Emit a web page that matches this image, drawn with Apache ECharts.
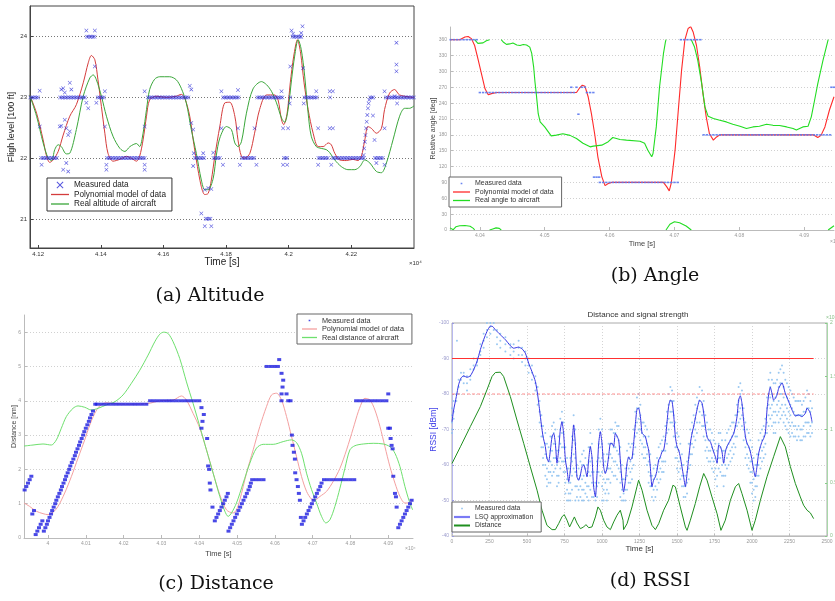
<!DOCTYPE html>
<html><head><meta charset="utf-8">
<script src="https://cdn.jsdelivr.net/npm/echarts@6/dist/echarts.min.js"></script>
<style>html,body{margin:0;padding:0;background:#fff}#c{width:835px;height:601px}</style>
</head><body><div id="c"></div>
<script>
// ---------------- (a) Altitude ----------------
const altTicksX = [4.12, 4.14, 4.16, 4.18, 4.2, 4.22];
const altTickLabelsX = ['4.12', '4.14', '4.16', '4.18', '4.2', '4.22'];
const altTicksY = [21, 22, 23, 24];
const altModel = [[4.1173,23.04],[4.1195,22.74],[4.1216,22.30],[4.1227,22.03],[4.1237,21.93],[4.1248,21.97],[4.1264,22.11],[4.1280,22.38],[4.1301,22.69],[4.1322,22.88],[4.1344,23.24],[4.1360,23.57],[4.1370,23.69],[4.1381,23.62],[4.1391,23.29],[4.1402,22.85],[4.1413,22.41],[4.1423,22.08],[4.1439,21.95],[4.1461,21.98],[4.1482,22.03],[4.1503,21.98],[4.1514,21.95],[4.1524,22.03],[4.1535,22.30],[4.1546,22.69],[4.1556,22.96],[4.1578,23.02],[4.1610,23.00],[4.1641,23.02],[4.1657,23.05],[4.1668,22.99],[4.1684,22.69],[4.1695,22.30],[4.1705,21.97],[4.1721,21.53],[4.1732,21.40],[4.1743,21.42],[4.1753,21.64],[4.1764,22.03],[4.1780,22.52],[4.1796,22.91],[4.1812,22.92],[4.1828,22.69],[4.1838,22.30],[4.1849,22.03],[4.1860,22.00],[4.1876,22.08],[4.1891,22.41],[4.1907,22.80],[4.1929,23.04],[4.1955,23.04],[4.1966,22.96],[4.1977,22.63],[4.1984,22.55],[4.1995,22.74],[4.2005,23.24],[4.2016,23.68],[4.2028,23.95],[4.2038,23.73],[4.2049,23.24],[4.2062,22.80],[4.2078,22.41],[4.2094,22.19],[4.2110,22.19],[4.2126,22.25],[4.2136,22.22],[4.2147,22.08],[4.2163,21.97],[4.2184,21.96],[4.2205,21.98],[4.2221,21.96],[4.2232,22.03],[4.2243,22.30],[4.2253,22.52],[4.2264,22.49],[4.2280,22.41],[4.2296,22.49],[4.2306,22.80],[4.2322,23.07],[4.2338,23.13],[4.2354,23.04],[4.2400,23.00]];
const altReal = [[4.1173,23.04],[4.1195,22.69],[4.1216,22.25],[4.1232,22.00],[4.1243,21.96],[4.1253,22.14],[4.1264,22.22],[4.1274,22.19],[4.1290,22.07],[4.1301,22.08],[4.1322,22.47],[4.1344,23.02],[4.1365,23.32],[4.1376,23.37],[4.1386,23.29],[4.1402,23.02],[4.1418,22.69],[4.1439,22.36],[4.1461,22.16],[4.1477,22.11],[4.1493,22.19],[4.1514,22.24],[4.1524,22.19],[4.1535,22.41],[4.1546,22.80],[4.1556,23.13],[4.1572,23.30],[4.1588,23.34],[4.1620,23.34],[4.1641,23.29],[4.1657,23.15],[4.1673,22.91],[4.1689,22.47],[4.1705,22.08],[4.1721,21.64],[4.1732,21.48],[4.1743,21.48],[4.1759,21.67],[4.1769,22.05],[4.1780,22.33],[4.1801,22.52],[4.1817,22.47],[4.1828,22.25],[4.1838,22.19],[4.1849,22.27],[4.1865,22.74],[4.1886,23.14],[4.1913,23.26],[4.1929,23.21],[4.1945,23.10],[4.1961,22.91],[4.1977,22.66],[4.1987,22.59],[4.1998,22.80],[4.2009,23.29],[4.2019,23.68],[4.2030,23.95],[4.2040,23.79],[4.2051,23.35],[4.2062,22.74],[4.2072,22.36],[4.2088,22.19],[4.2104,22.16],[4.2120,22.14],[4.2131,22.09],[4.2147,21.97],[4.2168,21.86],[4.2189,21.81],[4.2211,21.81],[4.2227,21.86],[4.2243,21.97],[4.2259,21.92],[4.2280,21.78],[4.2296,21.76],[4.2312,21.92],[4.2333,22.30],[4.2354,22.69],[4.2370,22.82],[4.2386,22.82],[4.2400,22.86]];
const altRun23T = [4.1175,4.118,4.1185,4.119,4.1195,4.120,4.127,4.1275,4.128,4.1285,4.129,4.1295,4.130,4.1305,4.131,4.1315,4.132,4.1325,4.133,4.1335,4.134,4.1345,4.135,4.139,4.1395,4.140,4.1405,4.141,4.155,4.1555,4.156,4.1565,4.157,4.1575,4.158,4.1585,4.159,4.1595,4.160,4.1605,4.161,4.1615,4.162,4.1625,4.163,4.1635,4.164,4.1645,4.165,4.1655,4.166,4.1665,4.167,4.1675,4.168,4.179,4.1795,4.180,4.1805,4.181,4.1815,4.182,4.1825,4.183,4.1835,4.184,4.190,4.1905,4.191,4.1915,4.192,4.1925,4.193,4.1935,4.194,4.1945,4.195,4.1955,4.196,4.1965,4.197,4.1975,4.198,4.2005,4.205,4.2055,4.206,4.2065,4.207,4.2075,4.208,4.2085,4.209,4.2132,4.226,4.2265,4.227,4.231,4.2315,4.232,4.2325,4.233,4.2335,4.234,4.2345,4.235,4.2355,4.236,4.2365,4.237,4.2375,4.238,4.2385,4.239,4.2395,4.240];
const altRun22T = [4.121,4.1215,4.122,4.1225,4.123,4.1235,4.124,4.1245,4.125,4.1255,4.126,4.142,4.1425,4.143,4.1435,4.144,4.1445,4.145,4.1455,4.146,4.1465,4.147,4.1475,4.148,4.1485,4.149,4.1495,4.150,4.1505,4.151,4.1515,4.152,4.1525,4.153,4.1535,4.154,4.170,4.1705,4.171,4.1715,4.172,4.1725,4.173,4.176,4.1765,4.177,4.1775,4.178,4.185,4.1855,4.186,4.1865,4.187,4.1875,4.188,4.1885,4.189,4.1985,4.199,4.1995,4.2095,4.210,4.2105,4.211,4.2115,4.212,4.2125,4.214,4.2145,4.215,4.2155,4.216,4.2165,4.217,4.2175,4.218,4.2185,4.219,4.2195,4.220,4.2205,4.221,4.2215,4.222,4.2225,4.223,4.2235,4.224,4.2275,4.228,4.2285,4.229,4.2295,4.230];
const altRun24T = [4.1355,4.136,4.1365,4.137,4.1375,4.138,4.2012,4.2017,4.2022,4.2027,4.2032,4.2037,4.2040];
const altRun21T = [4.1735,4.174,4.1745,4.175];
const altScatter = [[4.1205,23.11],[4.1205,22.52],[4.1211,21.89],[4.1269,22.52],[4.1274,23.13],[4.1280,23.15],[4.1285,23.08],[4.1290,22.49],[4.1296,22.38],[4.1301,23.24],[4.1306,23.13],[4.1280,21.81],[4.1290,21.92],[4.1296,21.78],[4.1274,22.53],[4.1285,22.63],[4.1301,22.44],[4.1354,24.10],[4.1381,24.10],[4.1354,22.91],[4.1360,22.82],[4.1381,23.51],[4.1386,22.91],[4.1413,23.10],[4.1413,22.52],[4.1418,21.89],[4.1418,21.81],[4.1540,23.10],[4.1540,22.52],[4.1540,21.89],[4.1540,21.81],[4.1684,23.19],[4.1689,23.13],[4.1689,22.58],[4.1695,22.47],[4.1697,22.08],[4.1695,21.87],[4.1727,22.08],[4.1732,21.48],[4.1743,21.51],[4.1753,21.49],[4.1721,21.09],[4.1732,20.88],[4.1753,20.88],[4.1759,22.09],[4.1785,23.10],[4.1785,22.49],[4.1790,21.89],[4.1838,23.12],[4.1838,22.49],[4.1844,21.89],[4.1891,22.49],[4.1897,21.89],[4.1977,23.10],[4.1982,22.49],[4.1982,21.89],[4.1995,21.89],[4.1998,22.49],[4.2003,22.90],[4.2005,23.51],[4.2009,24.10],[4.2014,24.05],[4.2044,24.17],[4.2040,24.06],[4.2046,23.48],[4.2048,22.90],[4.2088,23.10],[4.2094,22.49],[4.2094,21.89],[4.2131,23.10],[4.2131,22.49],[4.2136,21.89],[4.2141,23.10],[4.2141,22.49],[4.2239,22.05],[4.2241,22.16],[4.2243,22.27],[4.2245,22.38],[4.2247,22.49],[4.2249,22.60],[4.2251,22.71],[4.2253,22.82],[4.2255,22.90],[4.2257,22.96],[4.2269,22.70],[4.2274,22.30],[4.2280,21.92],[4.2306,23.10],[4.2306,22.49],[4.2306,21.89],[4.2338,23.02],[4.2344,23.90],[4.2344,23.54],[4.2344,23.43],[4.2346,22.90]];

// ---------------- (b) Angle ----------------
const angTicksX = [4.04, 4.05, 4.06, 4.07, 4.08, 4.09];
const angTickLabelsX = ['4.04', '4.05', '4.06', '4.07', '4.08', '4.09'];
const angTicksY = [0, 30, 60, 90, 120, 150, 180, 210, 240, 270, 300, 330, 360];
const angModel = [[4.0354,360],[4.0369,360],[4.0377,365],[4.0382,366],[4.0387,362],[4.0392,349],[4.0397,324],[4.0403,293],[4.0408,267],[4.0413,256],[4.0418,258],[4.0426,260],[4.0549,260],[4.0554,269],[4.0558,274],[4.0562,272],[4.0567,252],[4.0572,220],[4.0577,182],[4.0582,138],[4.0588,101],[4.0593,84],[4.0598,88],[4.0603,90],[4.0683,90],[4.0688,82],[4.0692,74],[4.0695,88],[4.0701,151],[4.0706,227],[4.0711,302],[4.0716,359],[4.0721,381],[4.0725,385],[4.0729,374],[4.0734,349],[4.0739,308],[4.0744,258],[4.0749,214],[4.0754,182],[4.0760,170],[4.0765,176],[4.0770,180],[4.0914,180],[4.0921,175],[4.0926,179],[4.0932,195],[4.0939,227],[4.0946,252]];
const angRealSegs = [
 [[4.0354,4],[4.0359,0.5],[4.0363,6],[4.0369,8],[4.0377,8.5],[4.0385,7],[4.0390,3],[4.0392,0]],
 [[4.0392,360],[4.0397,353],[4.0400,351],[4.0405,354],[4.0410,358],[4.0415,360]],
 [[4.0415,0],[4.0420,2],[4.0425,4],[4.0430,3],[4.0433,0]],
 [[4.0433,360],[4.0436,355.6],[4.0441,351.2],[4.0446,352],[4.0451,353.7],[4.0457,350],[4.0462,349],[4.0467,351],[4.0472,350],[4.0477,346],[4.0480,334],[4.0483,308],[4.0485,280],[4.0487,258],[4.0490,220],[4.0493,204.5],[4.0500,195],[4.0510,178],[4.0518,179.4],[4.0528,182],[4.0539,179],[4.0549,173],[4.0559,164],[4.0570,157.3],[4.0575,158.6],[4.0588,160.5],[4.0598,167],[4.0605,175],[4.0616,171.2],[4.0626,170],[4.0647,168],[4.0654,164],[4.0659,151],[4.0665,138.5],[4.0667,144.7],[4.0672,195],[4.0677,270],[4.0683,333],[4.0686,355],[4.0687,360]],
 [[4.0687,0],[4.0693,11],[4.0700,15.7],[4.0708,13.8],[4.0718,7.6],[4.0726,0]],
 [[4.0726,360],[4.0731,346],[4.0736,321],[4.0742,277],[4.0747,233],[4.0752,215],[4.0760,211],[4.0770,207.7],[4.0780,204.5],[4.0790,200],[4.0801,196.3],[4.0811,192],[4.0821,195],[4.0831,196.3],[4.0842,200],[4.0852,198],[4.0862,197.6],[4.0873,195],[4.0883,192],[4.0888,189],[4.0893,192],[4.0898,195],[4.0906,196.3],[4.0911,214],[4.0916,245],[4.0921,277],[4.0929,321],[4.0937,360]],
 [[4.0937,0],[4.0946,8]]
];
const angRun360T = [4.0355,4.0360,4.0365,4.0370,4.0375,4.0380,4.0385,4.0390,4.0395,4.0710,4.0715,4.0720,4.0725,4.0730,4.0735,4.0740];
const angRun260T = [4.0400,4.0405,4.0410,4.0415,4.0420,4.0425,4.0430,4.0435,4.0440,4.0445,4.0450,4.0455,4.0460,4.0465,4.0470,4.0475,4.0480,4.0485,4.0490,4.0495,4.0500,4.0505,4.0510,4.0515,4.0520,4.0525,4.0530,4.0535,4.0540,4.0545,4.0565,4.0570,4.0575];
const angRun270T = [4.0541,4.0549,4.0557,4.0562,4.0942,4.0946];
const angRun100T = [4.0576,4.0580,4.0584];
const angRun90T = [4.0585,4.0590,4.0595,4.0600,4.0605,4.0610,4.0615,4.0620,4.0625,4.0630,4.0635,4.0640,4.0645,4.0650,4.0655,4.0660,4.0665,4.0670,4.0675,4.0680,4.0685,4.0690,4.0695,4.0700,4.0705];
const angRun180T = [4.0745,4.0750,4.0755,4.0760,4.0765,4.0770,4.0775,4.0780,4.0785,4.0790,4.0795,4.0800,4.0805,4.0810,4.0815,4.0820,4.0825,4.0830,4.0835,4.0840,4.0845,4.0850,4.0855,4.0860,4.0865,4.0870,4.0875,4.0880,4.0885,4.0890,4.0895,4.0900,4.0905,4.0910,4.0915,4.0920,4.0925,4.0930,4.0935,4.0940];
const angOutliers = [[4.0552,219]];

// ---------------- (c) Distance ----------------
const distTicksX = [4, 4.01, 4.02, 4.03, 4.04, 4.05, 4.06, 4.07, 4.08, 4.09];
const distTickLabelsX = ['4', '4.01', '4.02', '4.03', '4.04', '4.05', '4.06', '4.07', '4.08', '4.09'];
const distTicksY = [0, 1, 2, 3, 4, 5, 6];
const distModel = [[3.99365,1.02],[3.99515,0.92],[3.99691,0.78],[3.99868,0.71],[4.0000,0.68],[4.00132,0.75],[4.00265,0.92],[4.00441,1.31],[4.00618,1.79],[4.00794,2.33],[4.00971,2.86],[4.01103,3.29],[4.01235,3.63],[4.01368,3.85],[4.01544,3.94],[4.01721,3.92],[4.02074,3.90],[4.02647,3.92],[4.02956,4.00],[4.03309,4.02],[4.03529,4.14],[4.03662,4.02],[4.03838,3.63],[4.04015,3.20],[4.04191,2.57],[4.04368,1.89],[4.04544,1.26],[4.04721,0.82],[4.04897,0.73],[4.04985,0.82],[4.05074,1.11],[4.05250,1.89],[4.05427,2.57],[4.05603,3.25],[4.05779,3.83],[4.05912,4.17],[4.06044,4.22],[4.06177,4.02],[4.06309,3.54],[4.06441,2.96],[4.06574,2.37],[4.06706,1.79],[4.06838,1.36],[4.06971,1.13],[4.07059,1.11],[4.07191,1.21],[4.07368,1.36],[4.07544,1.65],[4.07721,2.03],[4.07897,2.57],[4.08074,3.20],[4.08206,3.68],[4.08338,4.04],[4.08383,4.07],[4.08515,4.02],[4.08647,3.73],[4.08780,3.25],[4.08912,2.66],[4.09044,2.08],[4.09177,1.60],[4.09309,1.21],[4.09441,1.02],[4.09556,1.02],[4.09644,1.11]];
const distReal = [[3.99365,2.68],[3.99603,2.71],[3.99868,2.74],[4.00088,2.71],[4.00221,2.86],[4.00353,3.20],[4.00485,3.54],[4.00662,3.78],[4.00794,3.85],[4.00971,3.81],[4.01147,3.73],[4.01324,3.78],[4.01544,3.88],[4.01765,3.97],[4.01985,4.17],[4.02206,4.51],[4.02427,4.89],[4.02647,5.33],[4.02824,5.72],[4.02956,5.94],[4.03062,6.00],[4.03177,5.96],[4.03309,5.72],[4.03485,5.23],[4.03662,4.55],[4.03838,3.92],[4.04015,3.25],[4.04191,2.57],[4.04368,1.89],[4.04544,1.21],[4.04677,0.78],[4.04765,0.63],[4.04853,0.73],[4.04985,1.02],[4.05162,1.60],[4.05338,2.18],[4.05515,2.62],[4.05691,2.73],[4.05956,2.73],[4.06221,2.81],[4.06441,2.86],[4.06574,2.78],[4.06706,2.47],[4.06838,1.89],[4.06971,1.41],[4.07103,1.02],[4.07235,0.63],[4.07350,0.44],[4.07456,0.53],[4.07588,0.92],[4.07721,1.45],[4.07853,2.03],[4.07985,2.57],[4.08118,2.69],[4.08338,2.74],[4.08603,2.76],[4.08868,2.74],[4.09044,2.66],[4.09177,2.47],[4.09309,2.08],[4.09441,1.50],[4.09556,1.07],[4.09644,0.82]];
const distRun39T = [4.0125,4.013,4.014,4.015,4.016,4.017,4.018,4.019,4.020,4.021,4.022,4.023,4.024,4.025,4.026];
const distRun40T = [4.027,4.028,4.029,4.030,4.031,4.032,4.033,4.034,4.035,4.036,4.037,4.038,4.039,4.040,4.0815,4.0825,4.0835,4.0845,4.0855,4.0865,4.0875,4.0885,4.0895];
const distRun17T = [4.054,4.055,4.056,4.057,4.073,4.074,4.075,4.076,4.077,4.078,4.079,4.080,4.081];
const distRun50T = [4.0578,4.0588,4.0598,4.0608];
const distMeasPts = [[3.99382,1.4],[3.99426,1.5],[3.99471,1.6],[3.99515,1.7],[3.99559,1.8],[3.99585,0.7],[3.99629,0.8],[3.99674,0.1],[3.99718,0.2],[3.99762,0.3],[3.99806,0.4],[3.99850,0.5],
 [3.9989,0.2],[3.9993,0.3],[3.9997,0.4],[4.0000,0.5],[4.0004,0.6],[4.0008,0.7],[4.0011,0.8],[4.0015,0.9],[4.0019,1.0],[4.0022,1.1],[4.0026,1.2],[4.0030,1.3],[4.0034,1.4],[4.0037,1.5],[4.0041,1.6],[4.0045,1.7],[4.0048,1.8],[4.0052,1.9],[4.0056,2.0],[4.0059,2.1],[4.0063,2.2],[4.0067,2.3],[4.0071,2.4],[4.0074,2.5],[4.0078,2.6],[4.0082,2.7],[4.0085,2.8],[4.0089,2.9],[4.0093,3.0],[4.0096,3.1],[4.0100,3.2],[4.0104,3.3],[4.0108,3.4],[4.0111,3.5],[4.0115,3.6],[4.0119,3.7],
 [4.04059,3.8],[4.04121,3.6],[4.04086,3.4],[4.04059,3.2],[4.04209,2.9],[4.04235,2.1],[4.04262,2.0],[4.04279,1.6],[4.04297,1.4],[4.04350,0.9],[4.04412,0.5],[4.04456,0.6],[4.04500,0.7],[4.04544,0.8],[4.04588,0.9],[4.04632,1.0],[4.04677,1.1],[4.04721,1.2],[4.04756,1.3],
 [4.04774,0.2],[4.04818,0.3],[4.04862,0.4],[4.04906,0.5],[4.04950,0.6],[4.04994,0.7],[4.05038,0.8],[4.05082,0.9],[4.05127,1.0],[4.05171,1.1],[4.05215,1.2],[4.05259,1.3],[4.05303,1.4],[4.05338,1.5],[4.05365,1.6],
 [4.06115,5.2],[4.06177,4.8],[4.06221,4.6],[4.06203,4.4],[4.06177,4.2],[4.06177,4.0],[4.06309,4.2],[4.06353,4.0],[4.06415,4.0],[4.06450,3.0],[4.06468,2.7],[4.06503,2.5],[4.06530,2.3],[4.06538,1.9],[4.06574,1.7],[4.06609,1.5],[4.06635,1.3],[4.06662,1.1],
 [4.06688,0.6],[4.06715,0.4],[4.06759,0.5],[4.06803,0.6],[4.06847,0.7],[4.06891,0.8],[4.06935,0.9],[4.06980,1.0],[4.07024,1.1],[4.07068,1.2],[4.07112,1.3],[4.07156,1.4],[4.07200,1.5],[4.07235,1.6],
 [4.09000,4.2],[4.09000,3.2],[4.09044,3.2],[4.09062,2.9],[4.09088,2.7],[4.09115,2.6],[4.09132,1.8],[4.09177,1.3],[4.09203,1.2],[4.09221,0.9],
 [4.09265,0.3],[4.09309,0.4],[4.09353,0.5],[4.09397,0.6],[4.09441,0.7],[4.09485,0.8],[4.09529,0.9],[4.09574,1.0],[4.09618,1.1],[4.09662,1.2]];

// ---------------- (d) RSSI ----------------
const rssiLsq = [[0,-72.2],[11,-75.5],[29,-79.3],[44,-82.6],[60,-84.5],[78,-85.1],[100,-84.7],[122,-85.1],[144,-86.8],[167,-89.2],[189,-92.5],[211,-95.3],[233,-97.6],[256,-99.1],[267,-99.1],[289,-98.1],[322,-96.7],[356,-95.3],[389,-93.6],[411,-92.9],[444,-93.2],[467,-92.7],[489,-91.5],[511,-88.7],[533,-86.3],[556,-83.5],[571,-79.8],[584,-75.5],[596,-71.3],[607,-68.0],[622,-65.2],[633,-61.9],[644,-60.9],[656,-64.2],[667,-68.0],[678,-68.9],[689,-66.1],[700,-60.5],[711,-64.2],[722,-69.9],[733,-72.2],[744,-68.9],[756,-61.4],[767,-58.6],[778,-55.3],[789,-58.6],[800,-65.2],[811,-71.3],[822,-66.1],[833,-56.7],[844,-55.7],[856,-57.2],[867,-59.5],[878,-60.0],[889,-58.6],[900,-56.7],[911,-61.4],[922,-65.2],[933,-62.3],[944,-53.9],[956,-51.0],[967,-57.6],[978,-66.1],[989,-69.4],[1000,-66.1],[1011,-59.5],[1022,-57.6],[1033,-59.0],[1044,-62.3],[1056,-66.1],[1067,-66.1],[1078,-65.2],[1089,-68.9],[1111,-67.0],[1122,-61.4],[1133,-55.7],[1144,-52.4],[1156,-55.7],[1167,-60.5],[1178,-62.3],[1189,-61.4],[1200,-61.9],[1211,-66.1],[1222,-71.3],[1233,-75.7],[1244,-76.0],[1256,-73.6],[1267,-68.9],[1278,-68.5],[1289,-68.0],[1300,-66.1],[1311,-64.2],[1322,-59.5],[1333,-53.9],[1344,-55.7],[1356,-56.7],[1367,-58.6],[1378,-61.4],[1389,-62.3],[1400,-63.7],[1411,-64.2],[1422,-67.0],[1433,-71.8],[1444,-76.5],[1456,-78.3],[1467,-77.9],[1478,-74.1],[1489,-68.0],[1500,-65.2],[1511,-64.2],[1522,-62.3],[1533,-59.5],[1544,-56.7],[1556,-53.9],[1567,-57.6],[1578,-61.9],[1589,-66.1],[1600,-68.9],[1611,-70.8],[1622,-73.2],[1633,-75.5],[1651,-78.3],[1667,-77.4],[1678,-74.6],[1689,-70.8],[1700,-68.0],[1711,-67.0],[1722,-66.6],[1733,-65.2],[1744,-63.7],[1756,-62.3],[1767,-60.5],[1778,-65.6],[1789,-65.2],[1800,-63.7],[1811,-60.5],[1822,-63.7],[1833,-65.2],[1856,-67.0],[1878,-68.9],[1889,-70.8],[1900,-73.6],[1911,-78.3],[1922,-79.5],[1933,-77.4],[1944,-72.7],[1956,-68.0],[1967,-66.1],[1978,-65.2],[1989,-63.7],[2000,-61.4],[2011,-58.6],[2022,-56.7],[2033,-59.5],[2044,-63.2],[2056,-65.2],[2067,-66.6],[2078,-67.5],[2089,-68.9],[2100,-75.5],[2111,-79.8],[2122,-81.9],[2133,-80.2],[2144,-78.3],[2156,-78.8],[2167,-79.8],[2178,-81.6],[2200,-83.1],[2222,-80.2],[2244,-77.9],[2267,-75.5],[2289,-73.8],[2311,-74.1],[2333,-73.6],[2356,-74.6],[2367,-76.0],[2378,-75.5],[2389,-74.6],[2400,-72.2]];
const rssiDist = [[0,0.681],[56,0.838],[122,1.027],[189,1.215],[233,1.372],[267,1.498],[289,1.535],[322,1.538],[344,1.498],[389,1.309],[433,1.089],[478,0.870],[522,0.650],[567,0.430],[600,0.242],[633,0.100],[667,0.060],[689,0.060],[711,0.116],[733,0.179],[748,0.201],[767,0.148],[784,0.085],[800,0.132],[816,0.179],[833,0.122],[856,0.069],[878,0.085],[893,0.107],[911,0.078],[933,0.085],[956,0.179],[973,0.273],[989,0.242],[1011,0.148],[1033,0.085],[1056,0.060],[1078,0.132],[1100,0.195],[1122,0.242],[1133,0.257],[1140,0.148],[1144,0.060],[1167,0.116],[1200,0.273],[1233,0.462],[1244,0.524],[1267,0.430],[1300,0.242],[1333,0.100],[1356,0.060],[1378,0.116],[1411,0.242],[1444,0.336],[1473,0.477],[1489,0.462],[1522,0.273],[1556,0.085],[1567,0.053],[1589,0.148],[1622,0.305],[1651,0.462],[1678,0.587],[1700,0.524],[1733,0.367],[1767,0.210],[1793,0.053],[1822,0.148],[1856,0.336],[1889,0.462],[1911,0.493],[1933,0.399],[1967,0.242],[2000,0.053],[2022,0.148],[2056,0.336],[2100,0.556],[2144,0.744],[2189,0.933],[2200,0.939],[2222,0.838],[2256,0.650],[2289,0.493],[2322,0.367],[2344,0.289],[2367,0.242],[2389,0.217],[2411,0.163]];
const rssiThrSolid = [[0,-90],[2411,-90]];
const rssiThrDashed = [[0,-80],[2411,-80]];
// each row: time, then the measured RSSI values at that time
const rssiMeas = [[0,-76,-74,-72,-70,-69],[11,-78,-75,-73],[29,-80,-78],[33,-95],[44,-84,-82,-80],[60,-86,-84],[78,-86,-85,-83],[100,-85,-83,-81],[122,-87,-85,-84],[144,-88,-87,-90],[167,-90,-89,-88],[189,-94,-92,-91],[211,-97,-95,-93],[233,-100,-98,-96],[256,-100,-99,-97],[278,-100,-98],[300,-98,-96,-94],[322,-97,-95,-93],[356,-96,-94,-92],[389,-94,-93,-91],[411,-94,-92,-90],[444,-95,-93,-91],[467,-93,-91,-89],[489,-92,-90,-88],[511,-90,-88,-86],[533,-88,-86,-84],[556,-85,-83,-81],[571,-82,-80,-77],[584,-78,-75,-72],[596,-74,-71,-68,-65],
[607,-71,-68,-65,-62,-60],[622,-69,-66,-63,-60,-57],[633,-66,-62,-59,-56,-54],[644,-65,-61,-58,-55],[656,-68,-64,-61,-58,-55],[667,-71,-68,-64,-60,-57],[678,-72,-69,-66,-62,-58],[689,-70,-66,-62,-59],[700,-64,-60,-57,-54],[711,-68,-64,-61,-57,-55],[722,-73,-70,-66,-62,-59],[733,-75,-72,-69,-65,-61],[744,-72,-69,-65,-61,-58],[756,-65,-61,-58,-55,-52],[767,-62,-59,-56,-53,-50],[778,-59,-55,-52,-50],[789,-62,-58,-55,-52,-50],[800,-68,-65,-61,-57,-53],[811,-74,-71,-67,-63,-59],[822,-70,-66,-62,-58,-54,-50],[833,-60,-57,-54,-51],[844,-59,-56,-53,-50],[856,-61,-57,-54,-51],[867,-63,-60,-56,-53,-50],[878,-64,-60,-57,-53,-50],[889,-62,-59,-55,-52],[900,-60,-57,-54,-51],[911,-65,-61,-58,-54,-50],[922,-69,-65,-61,-57,-53],[933,-66,-62,-58,-55,-51],[944,-58,-54,-51],[956,-55,-52,-50],[967,-61,-58,-54,-51],[978,-70,-66,-62,-58,-55],[989,-73,-69,-65,-61,-57],[1000,-70,-66,-62,-58,-54,-50],[1011,-63,-60,-56,-53,-50],[1022,-61,-58,-55,-52],[1033,-63,-59,-56,-53,-50],[1044,-66,-62,-59,-56,-52],[1056,-70,-66,-63,-59,-55],[1067,-70,-66,-62,-58],[1078,-69,-65,-61,-57],[1089,-72,-69,-65,-61,-57],[1100,-71,-68,-64,-60,-56],[1111,-71,-67,-63,-59],[1122,-65,-61,-58,-55,-51],[1133,-60,-56,-53,-50],[1144,-56,-52,-50],[1156,-59,-56,-53,-50],[1167,-64,-60,-57,-53],[1178,-66,-62,-59,-55],[1189,-65,-61,-58,-55],[1200,-66,-62,-59,-56],[1211,-70,-66,-63,-60],[1222,-75,-71,-68,-65],[1233,-79,-76,-72,-69],[1244,-80,-76,-73,-70],[1256,-77,-74,-70,-67],[1267,-72,-69,-66,-63],[1278,-72,-68,-65,-62],[1289,-71,-68,-65,-62],[1300,-70,-66,-63,-60],[1311,-68,-64,-61,-58,-55],[1322,-63,-60,-57,-54],[1333,-57,-54,-51],[1344,-59,-56,-53,-50],[1356,-60,-57,-54,-51],[1367,-62,-59,-56,-53],[1378,-65,-61,-58,-55],[1389,-66,-62,-59,-56],[1400,-67,-64,-61,-58],[1411,-68,-64,-61,-58],[1422,-71,-67,-64,-61],[1433,-75,-72,-69,-66],[1444,-80,-77,-73,-70],[1456,-82,-78,-75,-72],[1467,-81,-78,-75,-72],[1478,-78,-74,-71,-68],[1489,-72,-68,-65,-62],[1500,-69,-65,-62,-59],[1511,-68,-64,-61,-58],[1522,-66,-62,-59,-56],[1533,-63,-60,-57,-54],[1544,-60,-57,-54,-51],[1556,-57,-54,-51],[1567,-61,-58,-55,-52],[1578,-66,-62,-59,-56],[1589,-70,-66,-63,-60],[1600,-72,-69,-66,-63],[1611,-74,-71,-68,-65],[1622,-77,-73,-70,-67],[1633,-79,-76,-72,-69],[1651,-82,-78,-75,-72],[1667,-81,-77,-74,-71],[1678,-78,-75,-71,-68],[1689,-74,-71,-67,-64],[1700,-72,-68,-65,-62],[1711,-70,-67,-64,-61],[1722,-70,-67,-64,-61],[1733,-69,-65,-62,-59],[1744,-67,-64,-61,-58],[1756,-66,-62,-59,-56],[1767,-64,-61,-57,-54],[1778,-69,-66,-62,-59],[1789,-69,-65,-62,-58],[1800,-67,-64,-60,-57],[1811,-64,-61,-57,-54],[1822,-67,-64,-60,-57],[1833,-69,-65,-62,-59],[1844,-70,-66,-63,-60],[1856,-71,-67,-64,-61],[1867,-72,-68,-65,-62],[1878,-72,-69,-66,-63],[1889,-74,-71,-68,-65],[1900,-77,-74,-71,-68],[1911,-82,-78,-75,-72],[1922,-83,-80,-76,-73],[1933,-81,-77,-74,-71],[1944,-76,-73,-70,-67],[1956,-72,-68,-65,-62],[1967,-70,-66,-63,-60],[1978,-69,-65,-62,-59],[1989,-67,-64,-61,-58,-55],[2000,-65,-61,-58,-55,-52],[2011,-62,-59,-56,-53,-50],[2022,-60,-57,-54,-51],[2033,-63,-60,-57,-54],[2044,-67,-63,-60,-57],[2056,-69,-65,-62,-59],[2067,-70,-67,-64,-61],[2078,-71,-68,-65,-62],[2089,-73,-69,-66,-63],[2100,-79,-76,-72,-69],[2111,-84,-80,-77,-74,-71],[2122,-86,-82,-79,-76,-73],[2133,-84,-80,-77,-74,-71],[2144,-83,-78,-75,-72,-69],[2156,-83,-79,-75,-72,-69],[2167,-84,-80,-77,-74],[2178,-86,-82,-78,-75,-72],[2189,-87,-83,-80,-76,-73],[2200,-88,-83,-80,-77,-74],[2211,-86,-82,-79,-75,-72],[2222,-84,-80,-77,-74,-71],[2233,-83,-79,-76,-73,-70],[2244,-82,-78,-75,-72,-69],[2256,-81,-77,-74,-71,-68],[2267,-80,-76,-72,-69],[2278,-79,-75,-71,-68],[2289,-78,-74,-71,-68],[2300,-78,-74,-70,-67],[2311,-78,-74,-71,-68],[2322,-78,-74,-70,-67],[2333,-77,-74,-70,-67],[2344,-78,-75,-71,-68],[2356,-79,-75,-72,-68],[2367,-81,-76,-72,-69],[2378,-80,-76,-72,-69],[2389,-78,-75,-71,-68],[2400,-76,-72,-69]];

// ---------------- build ----------------
const FONT = '"Liberation Sans", Arial, Helvetica, sans-serif';
const SERIF = '"DejaVu Serif", "Liberation Serif", serif';
const XPATH = 'path://M0,1L1,0L5,4L9,0L10,1L6,5L10,9L9,10L5,6L1,10L0,9L4,5Z';
// legend icons (kept to aspect by the legend): thin bar for lines, tiny dot for points
const lineIcon = (w, h) => 'path://M0,0L' + w + ',0L' + w + ',' + h + 'L0,' + h + 'Z';
const DOT_ICON = 'path://M0,0L0.01,0L0,0.01Z M10,10L9.99,10L10,9.99Z M3.6,3.6L6.4,3.6L6.4,6.4L3.6,6.4Z';
function nearestLabel(ticks, labels) {
  return function (v) { let bi = 0, bd = Infinity; for (let i = 0; i < ticks.length; i++) { const d = Math.abs(ticks[i] - v); if (d < bd) { bd = d; bi = i; } } return labels[bi]; };
}
function atLevel(ts, v) { return ts.map(t => [t, v]); }
const altMeasured = [].concat(atLevel(altRun23T, 23), atLevel(altRun22T, 22), atLevel(altRun24T, 24), atLevel(altRun21T, 21), altScatter);
const angMeasured = [].concat(atLevel(angRun360T, 360), atLevel(angRun260T, 260), atLevel(angRun270T, 270), atLevel(angRun100T, 100), atLevel(angRun90T, 90), atLevel(angRun180T, 180), angOutliers);
const distMeasured = [].concat(atLevel(distRun39T, 3.9), atLevel(distRun40T, 4.0), atLevel(distRun17T, 1.7), atLevel(distRun50T, 5.0), distMeasPts);
const rssiMeasured = [];
rssiMeas.forEach(row => { for (let i = 1; i < row.length; i++) rssiMeasured.push([row[0], row[i]]); });

const N_B = '\u200b', N_C = '\u200b\u200b', N_D = '\u200b\u200b\u200b';

function xAxisCfg(gi, min, max, ticks, labels, o) {
  return {
    gridIndex: gi, type: 'value', min: min, max: max,
    axisLine: { show: true, onZero: false, lineStyle: { color: o.line, width: 1 } },
    axisTick: { show: true, inside: true, length: 3, customValues: ticks, lineStyle: { color: o.line } },
    axisLabel: { customValues: ticks, formatter: nearestLabel(ticks, labels), fontSize: o.fs, color: o.lc, margin: o.margin || 3, fontFamily: FONT },
    splitLine: { show: false },
    name: 'Time [s]', nameLocation: 'middle', nameGap: o.nameGap, nameMoveOverlap: false,
    nameTextStyle: { fontSize: o.nfs, color: o.nc, fontFamily: FONT }
  };
}
function yAxisCfg(gi, min, max, ticks, name, o) {
  return {
    gridIndex: gi, type: 'value', min: min, max: max,
    axisLine: { show: true, onZero: false, lineStyle: { color: o.line, width: 1 } },
    axisTick: { show: true, inside: true, length: 3, customValues: ticks, lineStyle: { color: o.line } },
    axisLabel: { customValues: ticks, formatter: v => String(v), fontSize: o.fs, color: o.lc, margin: o.margin || 3, fontFamily: FONT },
    splitLine: { show: true, lineStyle: { color: o.grid, type: [1, 2], width: 1 } },
    name: name, nameLocation: 'middle', nameGap: o.nameGap, nameMoveOverlap: false,
    nameTextStyle: { fontSize: o.nfs, color: o.nc, fontFamily: FONT }
  };
}

const option = {
  animation: false,
  backgroundColor: '#ffffff',
  grid: [
    { left: 30, top: 6, width: 384, height: 242, show: true, borderColor: '#444', borderWidth: 1, outerBoundsMode: 'none', containLabel: false },
    { left: 450, top: 27, width: 384, height: 203, outerBoundsMode: 'none', containLabel: false },
    { left: 24, top: 315, width: 389, height: 223, outerBoundsMode: 'none', containLabel: false },
    { left: 452, top: 323, width: 375, height: 213, show: true, borderColor: '#aaa', borderWidth: 1, outerBoundsMode: 'none', containLabel: false }
  ],
  xAxis: [
    xAxisCfg(0, 4.1174, 4.24, altTicksX, altTickLabelsX, { line: '#444', fs: 6, lc: '#333', nameGap: 9, nfs: 10, nc: '#222' }),
    xAxisCfg(1, 4.0354, 4.0946, angTicksX, angTickLabelsX, { line: '#bbb', fs: 5, lc: '#999', nameGap: 10, nfs: 7.5, nc: '#444' }),
    xAxisCfg(2, 3.99365, 4.09654, distTicksX, distTickLabelsX, { line: '#bbb', fs: 5, lc: '#999', nameGap: 12, nfs: 7.5, nc: '#444' }),
    {
      gridIndex: 3, type: 'value', min: 0, max: 2500, interval: 250,
      axisLine: { show: true, onZero: false, lineStyle: { color: '#bbb' } },
      axisTick: { show: true, inside: true, length: 2, lineStyle: { color: '#bbb' } },
      axisLabel: { formatter: v => String(v), fontSize: 5, color: '#999', margin: 3, fontFamily: FONT },
      splitLine: { show: true, lineStyle: { color: '#d4d4d4', type: [1, 2] } },
      name: 'Time [s]', nameLocation: 'middle', nameGap: 9, nameMoveOverlap: false,
      nameTextStyle: { fontSize: 8, color: '#333', fontFamily: FONT }
    }
  ],
  yAxis: [
    yAxisCfg(0, 20.52, 24.505, altTicksY, 'Fligh level [100 ft]', { line: '#444', fs: 6, lc: '#333', grid: '#777', nameGap: 14, nfs: 9, nc: '#222' }),
    yAxisCfg(1, 0, 384, angTicksY, 'Relative angle [deg]', { line: '#bbb', fs: 5, lc: '#999', grid: '#d0d0d0', nameGap: 13, nfs: 7, nc: '#444' }),
    yAxisCfg(2, 0, 6.5, distTicksY, 'Distance [nm]', { line: '#bbb', fs: 5, lc: '#999', grid: '#d0d0d0', nameGap: 6, nfs: 7, nc: '#444' }),
    {
      gridIndex: 3, type: 'value', min: -100, max: -40, interval: 10, inverse: true,
      axisLine: { show: true, onZero: false, lineStyle: { color: '#b8b8ee' } },
      axisTick: { show: true, inside: true, length: 2, lineStyle: { color: '#9999dd' } },
      axisLabel: { formatter: v => String(v), fontSize: 5, color: '#9a9acc', margin: 3, fontFamily: FONT },
      splitLine: { show: true, lineStyle: { color: '#d4d4d4', type: [1, 2] } },
      name: 'RSSI [dBm]', nameLocation: 'middle', nameGap: 14, nameMoveOverlap: false,
      nameTextStyle: { fontSize: 8.5, color: '#4040e8', fontFamily: FONT }
    },
    {
      gridIndex: 3, type: 'value', min: 0, max: 2, interval: 0.5, position: 'right',
      axisLine: { show: true, onZero: false, lineStyle: { color: '#a8d8a8' } },
      axisTick: { show: true, inside: true, length: 2, lineStyle: { color: '#88cc88' } },
      axisLabel: { formatter: v => String(v), fontSize: 5, color: '#88c088', margin: 3, fontFamily: FONT },
      splitLine: { show: false }
    }
  ],
  legend: [
    { orient: 'vertical', left: 47, top: 178, itemWidth: 18, itemHeight: 7, itemGap: 1.5, padding: [3, 6, 3, 4], borderColor: '#333', borderWidth: 1, borderRadius: 0, backgroundColor: '#fff', selectedMode: false, textStyle: { fontSize: 8.2, color: '#222', fontFamily: FONT },
      data: [{ name: 'Measured data' }, { name: 'Polynomial model of data', icon: lineIcon(18, 1.3) }, { name: 'Real altitude of aircraft', icon: lineIcon(18, 1.3) }] },
    { orient: 'vertical', left: 449, top: 177, itemWidth: 17, itemHeight: 6, itemGap: 1.5, padding: [3, 8, 3, 4], borderColor: '#666', borderWidth: 1, borderRadius: 0, backgroundColor: '#fff', selectedMode: false, textStyle: { fontSize: 7, color: '#333', fontFamily: FONT },
      data: [{ name: 'Measured data' + N_B, icon: DOT_ICON }, { name: 'Polynomial model of data' + N_B, icon: lineIcon(17, 1.3) }, { name: 'Real angle to aircraft', icon: lineIcon(17, 1.3) }] },
    { orient: 'vertical', left: 297, top: 314, itemWidth: 15, itemHeight: 6, itemGap: 1.5, padding: [3, 8, 3, 5], borderColor: '#666', borderWidth: 1, borderRadius: 0, backgroundColor: '#fff', selectedMode: false, textStyle: { fontSize: 7.3, color: '#333', fontFamily: FONT },
      data: [{ name: 'Measured data' + N_C, icon: DOT_ICON }, { name: 'Polynomial model of data' + N_C, icon: lineIcon(15, 1.3) }, { name: 'Real distance of aircraft', icon: lineIcon(15, 1.3) }] },
    { orient: 'vertical', left: 452, top: 502, itemWidth: 16, itemHeight: 6, itemGap: 1.5, padding: [3, 8, 3, 2], borderColor: '#666', borderWidth: 1, borderRadius: 0, backgroundColor: '#fff', selectedMode: false, textStyle: { fontSize: 6.8, color: '#333', fontFamily: FONT },
      data: [{ name: 'Measured data' + N_D, icon: DOT_ICON }, { name: 'LSQ approximation', icon: lineIcon(16, 2.2) }, { name: 'Distance', icon: lineIcon(16, 2) }] }
  ],
  series: [].concat(
    [
      { type: 'line', name: 'Polynomial model of data', xAxisIndex: 0, yAxisIndex: 0, data: altModel, symbol: 'none', smooth: 0.3, lineStyle: { color: '#d43c3c', width: 1 }, itemStyle: { color: '#d43c3c' }, z: 2 },
      { type: 'line', name: 'Real altitude of aircraft', xAxisIndex: 0, yAxisIndex: 0, data: altReal, symbol: 'none', smooth: 0.3, lineStyle: { color: '#3aa63a', width: 1 }, itemStyle: { color: '#3aa63a' }, z: 2 },
      { type: 'scatter', name: 'Measured data', xAxisIndex: 0, yAxisIndex: 0, data: altMeasured, symbol: XPATH, symbolSize: 4, itemStyle: { color: '#2b2bd6', opacity: 0.8 }, z: 3 },
      { type: 'line', name: 'Polynomial model of data' + N_B, xAxisIndex: 1, yAxisIndex: 1, data: angModel, symbol: 'none', lineStyle: { color: '#ff2a2a', width: 1.1 }, itemStyle: { color: '#ff2a2a' }, z: 2 }
    ],
    angRealSegs.map(seg => ({ type: 'line', name: 'Real angle to aircraft', xAxisIndex: 1, yAxisIndex: 1, data: seg, symbol: 'none', lineStyle: { color: '#22dd22', width: 1.1 }, itemStyle: { color: '#22dd22' }, z: 2 })),
    [
      { type: 'scatter', name: 'Measured data' + N_B, xAxisIndex: 1, yAxisIndex: 1, data: angMeasured, symbol: 'rect', symbolSize: [2.4, 1.6], itemStyle: { color: '#5a78f0', opacity: 0.9 }, z: 3 },
      { type: 'line', name: 'Polynomial model of data' + N_C, xAxisIndex: 2, yAxisIndex: 2, data: distModel, symbol: 'none', smooth: 0.3, lineStyle: { color: '#f4a0a0', width: 1 }, itemStyle: { color: '#f4a0a0' }, z: 2 },
      { type: 'line', name: 'Real distance of aircraft', xAxisIndex: 2, yAxisIndex: 2, data: distReal, symbol: 'none', smooth: 0.3, lineStyle: { color: '#6ee06e', width: 1 }, itemStyle: { color: '#6ee06e' }, z: 2 },
      { type: 'scatter', name: 'Measured data' + N_C, xAxisIndex: 2, yAxisIndex: 2, data: distMeasured, symbol: 'rect', symbolSize: [4, 3], itemStyle: { color: '#1c1ce0' }, z: 3 },
      { type: 'scatter', name: 'Measured data' + N_D, xAxisIndex: 3, yAxisIndex: 3, data: rssiMeasured, symbol: 'circle', symbolSize: 2, itemStyle: { color: '#8fc2f0', opacity: 0.9 }, z: 1 },
      { type: 'line', name: 'thrSolid', xAxisIndex: 3, yAxisIndex: 3, data: rssiThrSolid, symbol: 'none', lineStyle: { color: '#ff3030', width: 1 }, z: 2 },
      { type: 'line', name: 'thrDashed', xAxisIndex: 3, yAxisIndex: 3, data: rssiThrDashed, symbol: 'none', lineStyle: { color: '#ff9090', width: 1, type: [3, 2] }, z: 2 },
      { type: 'line', name: 'LSQ approximation', xAxisIndex: 3, yAxisIndex: 3, data: rssiLsq, symbol: 'none', smooth: 0.2, lineStyle: { color: '#3535e6', width: 1 }, itemStyle: { color: '#7a7af5' }, z: 3 },
      { type: 'line', name: 'Distance', xAxisIndex: 3, yAxisIndex: 4, data: rssiDist, symbol: 'none', lineStyle: { color: '#1f8f1f', width: 1 }, itemStyle: { color: '#1f8f1f' }, z: 3 }
    ]
  ),
  graphic: { elements: [
    { type: 'text', x: 210, y: 296, style: { text: '(a) Altitude', font: '19px ' + SERIF, fill: '#111', align: 'center', verticalAlign: 'middle', textAlign: 'center', textVerticalAlign: 'middle' } },
    { type: 'text', x: 655, y: 276, style: { text: '(b) Angle', font: '19px ' + SERIF, fill: '#111', align: 'center', verticalAlign: 'middle', textAlign: 'center', textVerticalAlign: 'middle' } },
    { type: 'text', x: 216, y: 584, style: { text: '(c) Distance', font: '19px ' + SERIF, fill: '#111', align: 'center', verticalAlign: 'middle', textAlign: 'center', textVerticalAlign: 'middle' } },
    { type: 'text', x: 650, y: 581, style: { text: '(d) RSSI', font: '19px ' + SERIF, fill: '#111', align: 'center', verticalAlign: 'middle', textAlign: 'center', textVerticalAlign: 'middle' } },
    { type: 'text', x: 409, y: 263, style: { text: '×10⁴', font: '6px ' + FONT, fill: '#333', align: 'left', verticalAlign: 'middle', textAlign: 'left', textVerticalAlign: 'middle' } },
    { type: 'text', x: 830, y: 242, style: { text: '×10⁴', font: '5px ' + FONT, fill: '#999', align: 'left', verticalAlign: 'middle', textAlign: 'left', textVerticalAlign: 'middle' } },
    { type: 'text', x: 405, y: 549, style: { text: '×10⁴', font: '5px ' + FONT, fill: '#999', align: 'left', verticalAlign: 'middle', textAlign: 'left', textVerticalAlign: 'middle' } },
    { type: 'text', x: 826, y: 318, style: { text: '×10⁴', font: '5px ' + FONT, fill: '#88c088', align: 'left', verticalAlign: 'middle', textAlign: 'left', textVerticalAlign: 'middle' } },
    { type: 'text', x: 638, y: 315, style: { text: 'Distance and signal strength', font: '8px ' + FONT, fill: '#333', align: 'center', verticalAlign: 'middle', textAlign: 'center', textVerticalAlign: 'middle' } }
  ] }
};

const chart = echarts.init(document.getElementById('c'), null, { renderer: 'canvas', width: 835, height: 601 });
chart.setOption(option);
</script>
</body></html>
